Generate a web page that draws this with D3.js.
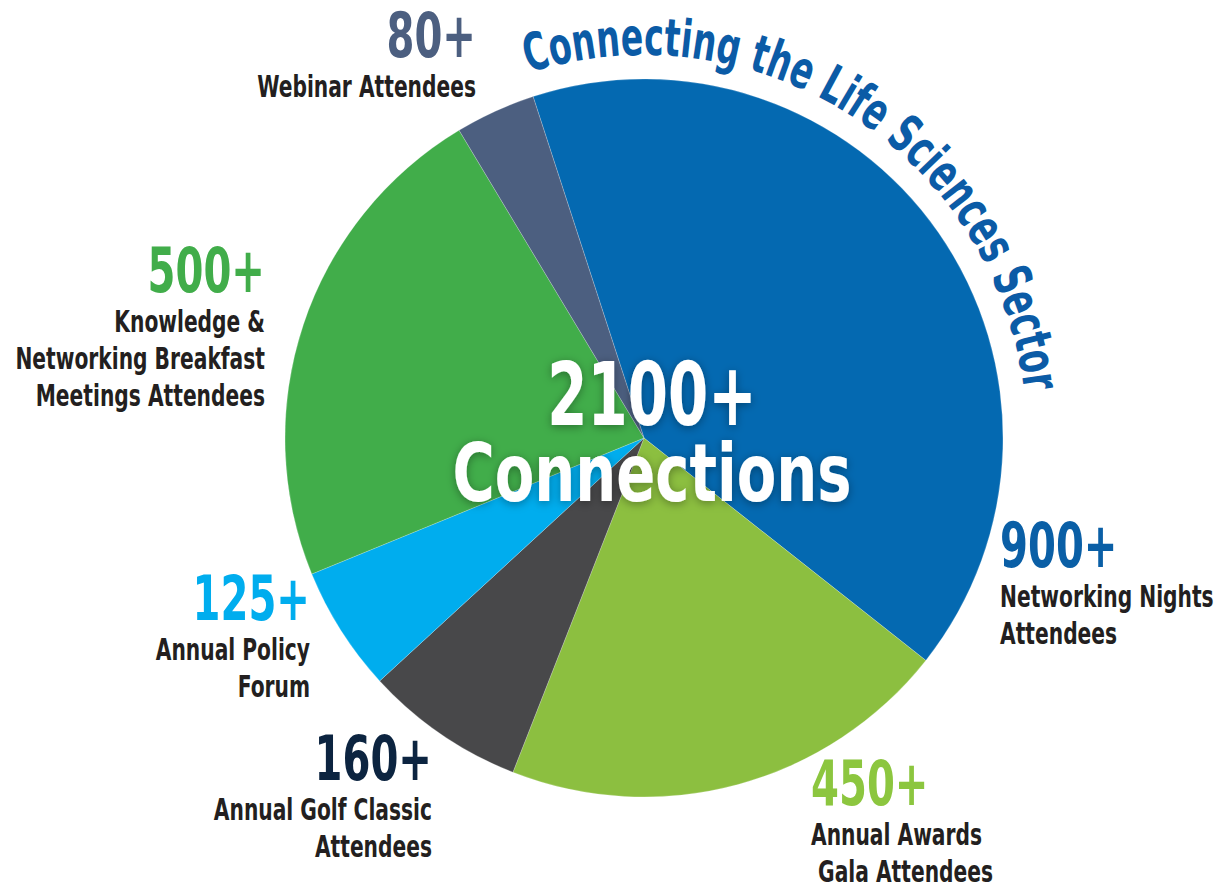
<!DOCTYPE html>
<html>
<head>
<meta charset="utf-8">
<script src="https://cdn.jsdelivr.net/npm/d3@7"></script>
<style>
  body { margin: 0; background: #fff; }
  text { font-family: "Liberation Sans Narrow", "Arial Narrow", "DejaVu Sans Condensed", sans-serif; font-weight: bold; }
</style>
</head>
<body>
<div class="chart"></div>
<script>
// data, in clockwise order from the top
var events = ["Networking Nights", "Annual Awards Gala", "Annual Golf Classic",
              "Annual Policy Forum", "Knowledge & Networking Breakfast", "Webinar"];
var values = [900, 450, 160, 125, 500, 80];
var valueLabels = ["900+", "450+", "160+", "125+", "500+", "80+"];
var labelLines = [
  ["Networking Nights", "Attendees"],
  ["Annual Awards", " Gala Attendees"],
  ["Annual Golf Classic", "Attendees"],
  ["Annual Policy", "Forum"],
  ["Knowledge &", "Networking Breakfast", "Meetings Attendees"],
  ["Webinar Attendees"]
];
var sliceColors = ["#0469b1", "#8cbf40", "#48484a", "#00adee", "#41ad4a", "#4c5f80"];
var numberColors = ["#0a5fa6", "#8cc63f", "#0c2440", "#00adee", "#41ad4a", "#4c5f80"];
var centerLines = ["2100+", "Connections"];
var arcTitle = "Connecting the Life Sciences Sector";

// layout
var W = 1218, H = 888;
var cx = 644, cy = 438, radius = 359;
var squeeze = 0.75;   // the fallback font is wider than the original condensed face
var labelPos = [
  { x: 1000, y: 567, anchor: "start" },
  { x: 811,  y: 805, anchor: "start" },
  { x: 432,  y: 780, anchor: "end" },
  { x: 310,  y: 620, anchor: "end" },
  { x: 265,  y: 292, anchor: "end" },
  { x: 476,  y: 57,  anchor: "end" }
];

var svg = d3.select(".chart")
            .append("svg")
            .attr("width", W)
            .attr("height", H);

var defs = svg.append("defs");
var shadow = defs.append("filter")
                 .attr("id", "shadow")
                 .attr("x", "-20%").attr("y", "-20%")
                 .attr("width", "140%").attr("height", "140%");
shadow.append("feDropShadow")
      .attr("dx", 0).attr("dy", 2)
      .attr("stdDeviation", 5)
      .attr("flood-color", "#000")
      .attr("flood-opacity", 0.35);

/**
 * Pie
 */
var pie = d3.pie()
            .sort(null)
            .startAngle(-18 * Math.PI / 180)
            .endAngle((360 - 18) * Math.PI / 180);

var arc = d3.arc()
            .innerRadius(0)
            .outerRadius(radius);

var pieG = svg.append("g")
              .attr("transform", "translate(" + cx + "," + cy + ")");

pieG.selectAll("path")
    .data(pie(values))
    .enter()
    .append("path")
    .attr("d", arc)
    .attr("fill", function(d, i) { return sliceColors[i]; })
    .attr("stroke", "rgba(255,255,255,0.35)")
    .attr("stroke-width", 0.6);

/**
 * Curved title
 */
var arcR = 383;
var a0 = (-17.5 - 90) * Math.PI / 180;
var a1 = (84 - 90) * Math.PI / 180;
var p = d3.path();
p.moveTo(cx + arcR * Math.cos(a0), cy + arcR * Math.sin(a0));
p.arc(cx, cy, arcR, a0, a1);
defs.append("path")
    .attr("id", "titlePath")
    .attr("d", p.toString());

svg.append("text")
   .attr("font-size", 52)
   .attr("fill", "#0b5ba6")
   .append("textPath")
   .attr("href", "#titlePath")
   .attr("textLength", arcR * (100.5 * Math.PI / 180))
   .attr("lengthAdjust", "spacingAndGlyphs")
   .text(arcTitle);

/**
 * Center text
 */
var center = svg.append("g")
                .attr("filter", "url(#shadow)")
                .attr("fill", "#fff")
                .attr("text-anchor", "middle")
                .attr("transform", "translate(652,0)");
center.append("text")
      .attr("y", 425)
      .attr("font-size", 88)
      .attr("transform", "scale(0.73,1)")
      .text(centerLines[0]);
center.append("text")
      .attr("y", 501)
      .attr("font-size", 80)
      .attr("transform", "scale(0.8,1)")
      .text(centerLines[1]);

/**
 * Labels
 */
var labels = svg.selectAll("g.label")
                .data(values)
                .enter()
                .append("g")
                .attr("class", "label")
                .attr("text-anchor", function(d, i) { return labelPos[i].anchor; })
                .attr("transform", function(d, i) {
                  return "translate(" + labelPos[i].x + "," + labelPos[i].y + ")";
                });

labels.append("text")
      .attr("font-size", 62)
      .attr("transform", "scale(0.72,1)")
      .attr("fill", function(d, i) { return numberColors[i]; })
      .text(function(d, i) { return valueLabels[i]; });

labels.each(function(d, i) {
  d3.select(this).selectAll("text.line")
    .data(labelLines[i])
    .enter()
    .append("text")
    .attr("class", "line")
    .attr("y", function(t, j) { return 40 + j * 37; })
    .attr("font-size", 30)
    .attr("transform", "scale(" + squeeze + ",1)")
    .attr("fill", "#231f20")
    .style("white-space", "pre")
    .text(function(t) { return t; });
});
</script>
</body>
</html>
